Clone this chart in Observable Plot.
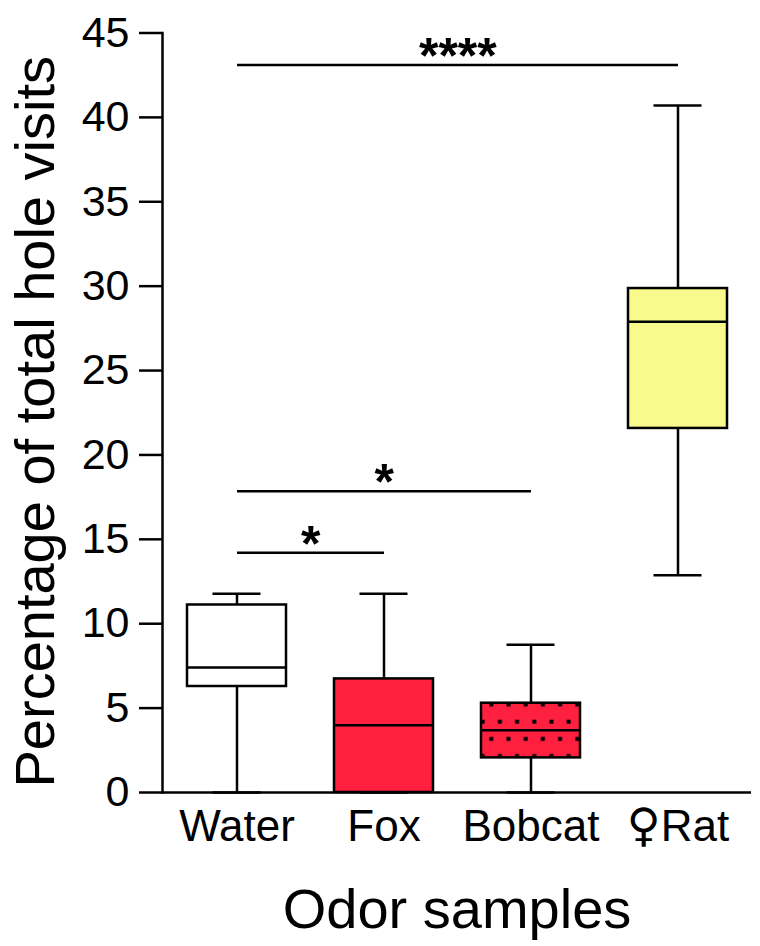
<!DOCTYPE html>
<html>
<head>
<meta charset="utf-8">
<script src="https://cdn.jsdelivr.net/npm/d3@7"></script>
<script src="https://cdn.jsdelivr.net/npm/@observablehq/plot@0.6"></script>
<style>
  html, body { margin: 0; padding: 0; background: #fff; }
  svg { font-family: "Liberation Sans", Arial, sans-serif; }
</style>
</head>
<body>
<div id="chart"></div>
<script>
// ---- data ----
const categories = ["Water", "Fox", "Bobcat", "\u2640Rat"];
const whiskerLow = [0, 0, 0, 12.87];
const q1 = [6.28, 0, 2.05, 21.57];
const median = [7.4, 3.98, 3.69, 27.89];
const q3 = [11.11, 6.73, 5.29, 29.86];
const whiskerHigh = [11.77, 11.78, 8.76, 40.7];
const boxFills = ["#ffffff", "#ff1f3f", "url(#bobcatDots)", "#f9fa8c"];

const sigFrom = ["Water", "Water", "Water"];
const sigTo = ["Fox", "Bobcat", "\u2640Rat"];
const sigY = [14.2, 17.85, 43.1];
const sigLabel = ["*", "*", "****"];

const yTicks = [0, 5, 10, 15, 20, 25, 30, 35, 40, 45];
const yTitle = "Percentage of total hole visits";
const xTitle = "Odor samples";

// ---- derived tables ----
const boxes = categories.map((c, i) => ({
  cat: c, lo: whiskerLow[i], q1: q1[i], med: median[i], q3: q3[i], hi: whiskerHigh[i], fill: boxFills[i]
}));
const sigs = sigFrom.map((a, i) => ({ a, b: sigTo[i], y: sigY[i], label: sigLabel[i] }));

const W = 760, H = 946;
const mL = 162, mR = 9, mT = 32.5, mB = 154;
const bw = (W - mL - mR) / categories.length;
const sw = 2.5;

const starMarks = sigs.map(s => {
  const k = (categories.indexOf(s.b) - categories.indexOf(s.a)) / 2;
  return Plot.text([s], {
    x: "a", y: "y", text: "label", dx: k * bw, dy: -8,
    fontSize: 50, fontWeight: "bold", fill: "black", lineAnchor: "middle", textAnchor: "middle"
  });
});

const chart = Plot.plot({
  width: W, height: H,
  marginLeft: mL, marginRight: mR, marginTop: mT, marginBottom: mB,
  style: { background: "white", color: "black", fontFamily: "'Liberation Sans', Arial, sans-serif" },
  x: { type: "band", domain: categories, padding: 0, label: null },
  y: { domain: [0, 45], label: null },
  marks: [
    // whiskers
    Plot.ruleX(boxes, { x: "cat", y1: "lo", y2: "hi", stroke: "black", strokeWidth: sw }),
    Plot.tickY(boxes, { x: "cat", y: "hi", insetLeft: 49.5, insetRight: 49.5, stroke: "black", strokeWidth: sw }),
    Plot.tickY(boxes, { x: "cat", y: "lo", insetLeft: 49.5, insetRight: 49.5, stroke: "black", strokeWidth: sw }),
    // boxes
    Plot.barY(boxes, { x: "cat", y1: "q1", y2: "q3", fill: d => d.fill, insetLeft: 24, insetRight: 24, stroke: "black", strokeWidth: sw }),
    Plot.tickY(boxes, { x: "cat", y: "med", insetLeft: 24, insetRight: 24, stroke: "black", strokeWidth: sw }),
    // significance lines
    Plot.link(sigs, { x1: "a", x2: "b", y1: "y", y2: "y", stroke: "black", strokeWidth: sw }),
    ...starMarks,
    // axes
    Plot.frame({ anchor: "left", stroke: "black", strokeWidth: sw }),
    Plot.ruleY([0], { stroke: "black", strokeWidth: sw }),
    Plot.axisY({ ticks: yTicks, tickSize: 23, tickPadding: 10, fontSize: 43, strokeWidth: sw, label: null }),
    Plot.axisX({ tickSize: 0, tickPadding: 17, fontSize: 44, label: null }),
    // titles
    Plot.text([yTitle], { frameAnchor: "left", textAnchor: "middle", lineAnchor: "middle", rotate: -90, dx: -126, dy: 9, fontSize: 56, fill: "black" }),
    Plot.text([xTitle], { frameAnchor: "bottom", textAnchor: "middle", lineAnchor: "top", dy: 96, fontSize: 56, fill: "black" })
  ]
});

const svg = d3.select(chart);
// pattern for bobcat (style only)
const defs = svg.insert("defs", ":first-child");
const pat = defs.append("pattern")
  .attr("id", "bobcatDots")
  .attr("patternUnits", "userSpaceOnUse")
  .attr("x", 478.4).attr("y", 713.1)
  .attr("width", 17.2).attr("height", 34.4);
pat.append("rect").attr("width", 17.2).attr("height", 34.4).attr("fill", "#ff1f3f");
pat.append("rect").attr("x", 2.3).attr("y", 6.6).attr("width", 4).attr("height", 4).attr("fill", "black");
pat.append("rect").attr("x", 10.9).attr("y", 23.8).attr("width", 4).attr("height", 4).attr("fill", "black");

// larger female sign in the tick label (style only)
svg.selectAll("text").each(function () {
  const t = d3.select(this);
  if (this.childElementCount === 0 && this.textContent.startsWith("\u2640")) {
    const rest = this.textContent.slice(1);
    t.text("");
    t.append("tspan").attr("font-family", "DejaVu Sans").attr("font-size", "1.05em").text("\u2640");
    t.append("tspan").text(rest);
  }
});

document.getElementById("chart").appendChild(chart);
</script>
</body>
</html>
